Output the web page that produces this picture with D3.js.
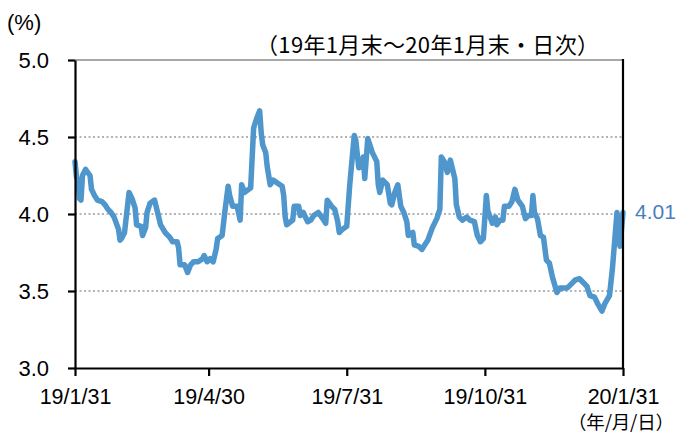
<!DOCTYPE html>
<html><head><meta charset="utf-8">
<script src="https://cdn.jsdelivr.net/npm/d3@7"></script>
<style>
body{margin:0;background:#fff;}
svg{display:block;font-family:"Liberation Sans",Arial,sans-serif;}
</style></head>
<body><svg id="c" width="679" height="434"></svg>
<script>
const dates = ["2019-01-31","2019-02-01","2019-02-02","2019-02-03","2019-02-04","2019-02-05","2019-02-07","2019-02-10","2019-02-11","2019-02-13","2019-02-15","2019-02-18","2019-02-20","2019-02-22","2019-02-24","2019-02-26","2019-03-01","2019-03-02","2019-03-03","2019-03-05","2019-03-08","2019-03-10","2019-03-12","2019-03-13","2019-03-16","2019-03-17","2019-03-19","2019-03-20","2019-03-22","2019-03-25","2019-03-27","2019-03-29","2019-04-01","2019-04-04","2019-04-06","2019-04-09","2019-04-10","2019-04-11","2019-04-14","2019-04-16","2019-04-18","2019-04-20","2019-04-23","2019-04-26","2019-04-27","2019-04-29","2019-05-01","2019-05-03","2019-05-05","2019-05-06","2019-05-09","2019-05-11","2019-05-13","2019-05-14","2019-05-16","2019-05-19","2019-05-21","2019-05-22","2019-05-24","2019-05-28","2019-05-30","2019-06-01","2019-06-03","2019-06-04","2019-06-05","2019-06-07","2019-06-08","2019-06-10","2019-06-12","2019-06-15","2019-06-18","2019-06-19","2019-06-20","2019-06-21","2019-06-25","2019-06-26","2019-06-29","2019-06-30","2019-07-02","2019-07-05","2019-07-07","2019-07-09","2019-07-12","2019-07-15","2019-07-17","2019-07-18","2019-07-21","2019-07-23","2019-07-25","2019-07-26","2019-07-28","2019-07-31","2019-08-02","2019-08-05","2019-08-06","2019-08-08","2019-08-10","2019-08-11","2019-08-12","2019-08-14","2019-08-17","2019-08-20","2019-08-21","2019-08-22","2019-08-24","2019-08-27","2019-08-29","2019-08-30","2019-09-01","2019-09-03","2019-09-05","2019-09-07","2019-09-09","2019-09-10","2019-09-13","2019-09-14","2019-09-17","2019-09-19","2019-09-21","2019-09-23","2019-09-26","2019-09-29","2019-10-01","2019-10-02","2019-10-04","2019-10-06","2019-10-08","2019-10-11","2019-10-12","2019-10-14","2019-10-16","2019-10-19","2019-10-21","2019-10-24","2019-10-26","2019-10-28","2019-10-30","2019-11-01","2019-11-02","2019-11-05","2019-11-07","2019-11-08","2019-11-10","2019-11-12","2019-11-13","2019-11-16","2019-11-18","2019-11-20","2019-11-22","2019-11-25","2019-11-27","2019-11-29","2019-12-01","2019-12-02","2019-12-03","2019-12-05","2019-12-07","2019-12-09","2019-12-11","2019-12-13","2019-12-15","2019-12-18","2019-12-20","2019-12-25","2019-12-28","2019-12-30","2020-01-02","2020-01-04","2020-01-07","2020-01-09","2020-01-12","2020-01-14","2020-01-17","2020-01-19","2020-01-22","2020-01-24","2020-01-27","2020-01-29","2020-01-31"];
const yields = [4.34,4.24,4.22,4.10,4.09,4.25,4.29,4.25,4.16,4.12,4.09,4.08,4.06,4.03,4.01,3.98,3.90,3.83,3.84,3.88,4.14,4.10,4.04,3.93,3.92,3.86,3.91,4.01,4.07,4.09,4.01,3.93,3.88,3.85,3.82,3.82,3.78,3.67,3.67,3.62,3.67,3.69,3.69,3.71,3.73,3.69,3.71,3.69,3.77,3.84,3.86,4.03,4.18,4.12,4.05,4.05,3.96,4.19,4.14,4.17,4.56,4.62,4.67,4.53,4.45,4.40,4.31,4.19,4.22,4.20,4.18,4.12,3.98,3.93,3.96,4.05,4.05,3.99,4.01,3.95,3.96,3.99,4.01,3.97,3.94,4.09,4.05,4.03,3.95,3.88,3.90,3.92,4.19,4.51,4.48,4.30,4.31,4.37,4.23,4.49,4.40,4.34,4.19,4.14,4.22,4.19,4.07,4.06,4.14,4.19,4.05,4.01,3.95,3.86,3.88,3.80,3.79,3.77,3.80,3.83,3.91,3.97,4.03,4.37,4.34,4.27,4.35,4.23,4.06,3.98,3.96,3.98,3.96,3.95,3.86,3.82,3.84,4.12,4.02,3.94,3.98,3.93,3.96,3.96,4.05,4.05,4.08,4.16,4.09,4.05,3.97,3.99,3.99,4.12,4.01,3.97,3.86,3.85,3.70,3.68,3.59,3.49,3.52,3.52,3.55,3.57,3.58,3.56,3.53,3.47,3.46,3.42,3.37,3.42,3.47,3.65,4.01,3.79,4.01];
const yTicks = [3.0, 3.5, 4.0, 4.5, 5.0];
const xTickDates = ["2019-01-31","2019-04-30","2019-07-31","2019-10-31","2020-01-31"];
const xTickLabels = ["19/1/31","19/4/30","19/7/31","19/10/31","20/1/31"];
const lastLabel = "4.01";
const unitLabel = "(%)";
const subtitle = "（19年1月末～20年1月末・日次）";
const xUnitLabel = "（年/月/日）";

const parse = d3.timeParse("%Y-%m-%d");
const data = dates.map((d,i)=>({date:parse(d), v:yields[i]}));

const L=75, R=623, T=60, B=368;
const svg = d3.select("#c");
const x = d3.scaleTime().domain([parse("2019-01-31"), parse("2020-01-31")]).range([L,R]);
const y = d3.scaleLinear().domain([3,5]).range([B,T]);

// gridlines
svg.append("g").selectAll("line").data(yTicks.filter(t=>t>3 && t<5)).join("line")
  .attr("x1",L).attr("x2",R).attr("y1",d=>y(d)).attr("y2",d=>y(d))
  .attr("stroke","#9a9a9a").attr("stroke-width",1.5).attr("stroke-dasharray","2,2.5");
// top line
svg.append("line").attr("x1",L).attr("x2",R).attr("y1",y(5)).attr("y2",y(5))
  .attr("stroke","#8a8a8a").attr("stroke-width",1.5);

// line
svg.append("path").datum(data)
  .attr("fill","none").attr("stroke","#4e96cc").attr("stroke-width",5.5)
  .attr("stroke-linejoin","round").attr("stroke-linecap","round")
  .attr("d", d3.line().x(d=>x(d.date)).y(d=>y(d.v)));

// left axis
const ya = svg.append("g").attr("transform",`translate(${L},0)`)
  .call(d3.axisLeft(y).tickValues(yTicks).tickFormat(d3.format(".1f")).tickSize(7).tickSizeOuter(0).tickPadding(19));
ya.select(".domain").attr("stroke","#000").attr("stroke-width",2.2);
ya.selectAll(".tick line").attr("stroke","#000").attr("stroke-width",2.2);
ya.selectAll(".tick text").attr("font-size",22).attr("fill","#000").attr("font-family","Liberation Sans, Arial, sans-serif");

// bottom axis
const xa = svg.append("g").attr("transform",`translate(0,${B})`)
  .call(d3.axisBottom(x).tickValues(xTickDates.map(parse)).tickFormat((d,i)=>xTickLabels[i]).tickSize(8).tickSizeOuter(0).tickPadding(13));
xa.select(".domain").attr("stroke","#000").attr("stroke-width",2.2);
xa.selectAll(".tick line").attr("stroke","#000").attr("stroke-width",2.2);
xa.selectAll(".tick text").attr("font-size",21.5).attr("fill","#000").attr("font-family","Liberation Sans, Arial, sans-serif");

// right border
svg.append("line").attr("x1",R).attr("x2",R).attr("y1",T-1).attr("y2",B)
  .attr("stroke","#000").attr("stroke-width",2.2);

// labels
svg.append("text").attr("x",7).attr("y",30).attr("font-size",22).text(unitLabel);
svg.append("text").attr("x",256).attr("y",53)
  .attr("font-family","Noto Sans CJK JP, sans-serif").attr("font-size",22)
  .attr("textLength",343).attr("lengthAdjust","spacing").text(subtitle);
svg.append("text").attr("x",568).attr("y",429)
  .attr("font-family","Noto Sans CJK JP, sans-serif").attr("font-size",18.5)
  .attr("textLength",106).attr("lengthAdjust","spacing").text(xUnitLabel);
const last = data[data.length-1];
svg.append("text").attr("x",R+12).attr("y",y(last.v)+7).attr("font-size",21)
  .attr("fill","#4a7ebb").text(lastLabel);
</script></body></html>
